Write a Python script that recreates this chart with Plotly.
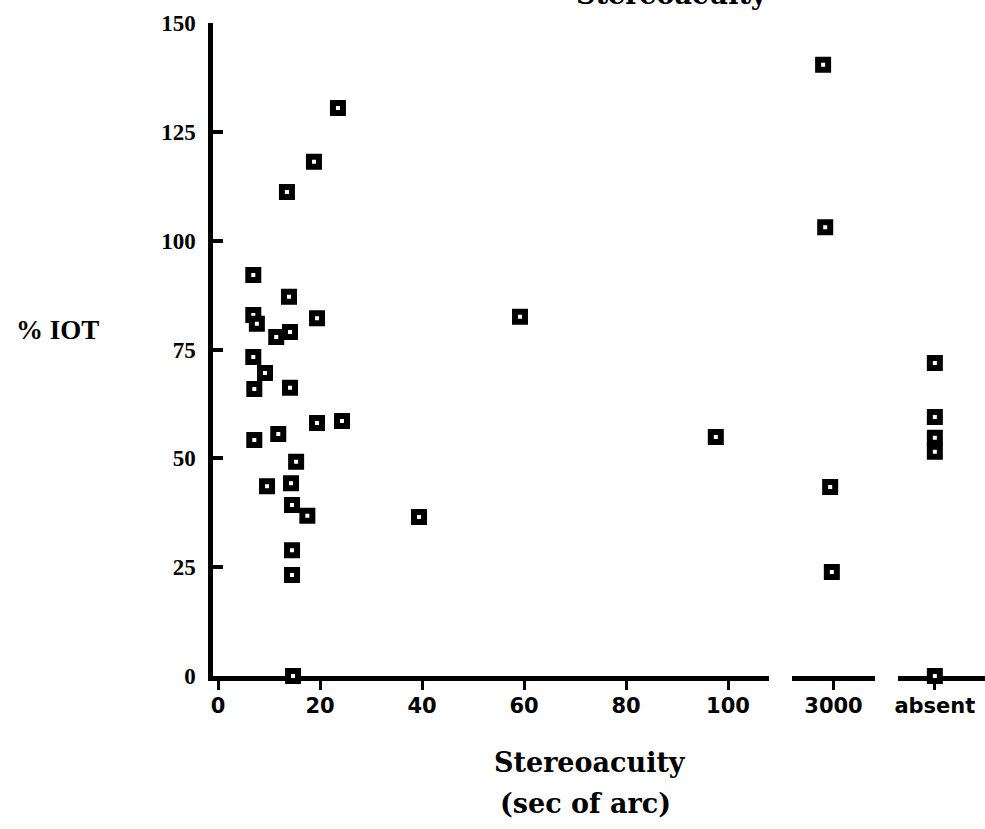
import plotly.graph_objects as go

# ---- data ----
stereo_main = [23.5, 18.8, 13.5, 6.9, 13.9, 6.9, 7.6, 19.4, 59.2, 11.4, 14.1, 6.9, 9.2, 7.1,
               14.1, 19.4, 24.3, 11.8, 7.1, 15.3, 9.6, 14.3, 14.5, 17.5, 39.4, 14.5, 14.5,
               14.7, 97.6]
iot_main = [130.5, 118.1, 111.2, 92.1, 87.1, 82.9, 80.9, 82.2, 82.5, 77.9, 79.0, 73.3, 69.6, 65.9,
            66.2, 58.1, 58.6, 55.6, 54.2, 49.2, 43.6, 44.3, 39.3, 36.8, 36.5, 28.9, 23.2,
            0.0, 54.9]
stereo_3000 = [2975, 2980, 2992, 2996]
iot_3000 = [140.4, 103.1, 43.4, 23.9]
absent_label = "absent"
iot_absent = [71.9, 59.5, 54.7, 51.5, 0.0]

main_ticks = [0, 20, 40, 60, 80, 100]
main_ticktext = ["0", "20", "40", "60", "80", "100"]
y_ticks = [0, 25, 50, 75, 100, 125, 150]

# ---- styling ----
marker = dict(symbol="square", size=10, color="white", line=dict(color="black", width=6))
tickfont_x = dict(family="DejaVu Sans", size=21, color="black", weight="bold")
tickfont_y = dict(family="Liberation Serif", size=23, color="black", weight="bold")

fig = go.Figure()
fig.add_trace(go.Scatter(x=stereo_main, y=iot_main, mode="markers", marker=marker,
                         xaxis="x", yaxis="y", cliponaxis=False, showlegend=False))
fig.add_trace(go.Scatter(x=stereo_3000, y=iot_3000, mode="markers", marker=marker,
                         xaxis="x2", yaxis="y", cliponaxis=False, showlegend=False))
fig.add_trace(go.Scatter(x=[absent_label] * len(iot_absent), y=iot_absent, mode="markers",
                         marker=marker, xaxis="x3", yaxis="y", cliponaxis=False,
                         showlegend=False))

axis_common = dict(showline=True, linecolor="black", linewidth=4.5, ticks="outside",
                   ticklen=9, tickwidth=3, tickcolor="black", showgrid=False,
                   zeroline=False, layer="below traces", anchor="y", tickfont=tickfont_x,
                   ticklabelstandoff=-2)

fig.update_layout(
    width=985, height=829,
    margin=dict(l=213, r=0, t=23, b=153),
    paper_bgcolor="white", plot_bgcolor="white",
    xaxis=dict(domain=[0, 0.720], range=[-1, 108], tickvals=main_ticks,
               ticktext=main_ticktext, **axis_common),
    xaxis2=dict(domain=[0.750, 0.8575], range=[2900, 3100], tickvals=[3000],
                ticktext=["3000"], **axis_common),
    xaxis3=dict(domain=[0.887, 1.0], type="category", categoryarray=[absent_label],
                range=[-0.425, 0.575], **axis_common),
    yaxis=dict(range=[0, 150], tickvals=y_ticks, showline=True, linecolor="black",
               linewidth=4.5, ticks="inside", ticklen=10, tickwidth=3.5, tickcolor="black",
               showgrid=False, zeroline=False, layer="below traces", anchor="x",
               tickfont=tickfont_y, ticklabelstandoff=8),
)

title_font = dict(family="DejaVu Serif", size=27, color="black")
fig.add_annotation(text="<b>Stereoacuity</b>", xref="paper", yref="paper",
                   x=0.5946, y=1.017, xanchor="center", yanchor="bottom",
                   showarrow=False, font=title_font)
fig.add_annotation(text="<b>Stereoacuity</b>", xref="paper", yref="paper",
                   x=0.4883, y=-0.1332, xanchor="center", yanchor="middle",
                   showarrow=False, font=title_font)
fig.add_annotation(text="<b>(sec of arc)</b>", xref="paper", yref="paper",
                   x=0.4819, y=-0.1945, xanchor="center", yanchor="middle",
                   showarrow=False, font=title_font)
fig.add_annotation(text="<b>% IOT</b>", xref="paper", yref="paper",
                   x=-0.202, y=0.530, xanchor="center", yanchor="middle",
                   showarrow=False, font=dict(family="Liberation Serif", size=27, color="black"))

fig.write_html("out.html")
